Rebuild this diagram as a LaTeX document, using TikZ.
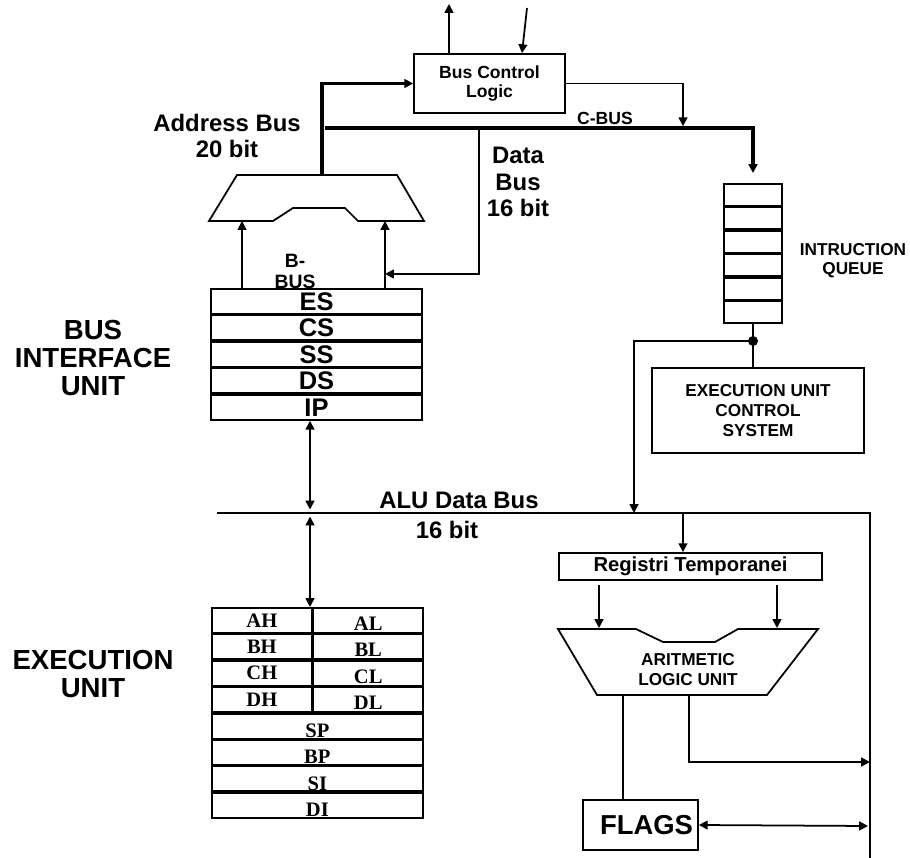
\documentclass[tikz,border=0pt]{standalone}
\usepackage{fontspec}
\setmainfont{Liberation Sans}
\newfontfamily\gprfont{Liberation Serif}
\usetikzlibrary{arrows.meta,positioning}

\begin{document}
\begin{tikzpicture}[x=0.02cm, y=-0.02cm, line width=1pt, >={Triangle[length=5pt,width=5pt]},
  every node/.style={inner sep=1pt, font=\bfseries},
  bus/.style={line width=2.2pt},
  box/.style={draw, line width=1pt},
  segreg/.style={draw, minimum width=4.22cm, minimum height=0.496cm, inner sep=0pt, font=\bfseries\fontsize{14.5}{14.5}\selectfont},
  gprreg/.style={draw, minimum height=0.494cm, inner sep=0pt, font=\gprfont\bfseries\fontsize{11.7}{12}\selectfont},
  gprmid/.style={text height=4mm, text depth=0pt},
  gprlow/.style={text height=4.6mm, text depth=0pt},
  qcell/.style={draw, minimum width=1.16cm, minimum height=0.434cm, inner sep=0pt},
  biglbl/.style={align=center, font=\bfseries\fontsize{15.7}{16}\selectfont},
  buslbl/.style={align=center, font=\bfseries\fontsize{13.6}{15.2}\selectfont},
  smalllbl/.style={align=center, font=\bfseries\fontsize{9.8}{10.8}\selectfont}]
\useasboundingbox (0,0) rectangle (910,858);

\node[box, minimum width=3.02cm, minimum height=1.18cm, align=center, font=\bfseries\fontsize{10}{11}\selectfont] (bcl) at (489.5,83.5) {Bus Control\\Logic};
\node[buslbl] (abus) at (227,136) {Address Bus\\20 bit};
\node[buslbl] (dbus) at (518,182) {Data\\Bus\\16 bit};
\node[font=\bfseries\fontsize{10}{11}\selectfont] (cbus) at (605,118) {C-BUS};
\node[align=center, font=\bfseries\fontsize{11}{12}\selectfont] (bbus) at (295,271) {B-\\BUS};

\node[segreg, anchor=north] (es) at (316.5,288) {ES};
\node[segreg, below=0pt of es] (cs) {CS};
\node[segreg, below=0pt of cs] (ss) {SS};
\node[segreg, below=0pt of ss] (ds) {DS};
\node[segreg, below=0pt of ds] (ip) {IP};

\node[biglbl] (biu) at (93,358) {BUS\\INTERFACE\\UNIT};
\node[biglbl] (eu) at (93,674) {EXECUTION\\UNIT};

\node[qcell, anchor=north] (iq1) at (753,183) {};
\node[qcell, below=0pt of iq1] (iq2) {};
\node[qcell, below=0pt of iq2] (iq3) {};
\node[qcell, below=0pt of iq3] (iq4) {};
\node[qcell, below=0pt of iq4] (iq5) {};
\node[qcell, below=0pt of iq5] (iq6) {};
\node[smalllbl] (iqlbl) at (853,261) {INTRUCTION\\QUEUE};

\node[box, smalllbl, minimum width=4.24cm, minimum height=1.7cm, font=\bfseries\fontsize{9.8}{11.2}\selectfont] (eucs) at (758,410.5) {EXECUTION UNIT\\CONTROL\\SYSTEM};

\node[buslbl] (aldb) at (459,500) {ALU Data Bus};
\node[buslbl] (aldbw) at (447,530) {16 bit};

\node[box, minimum width=5.26cm, minimum height=0.54cm, font=\bfseries\fontsize{11.5}{12}\selectfont] (rt) at (690.5,566.5) {Registri Temporanei};
\node[smalllbl, font=\bfseries\fontsize{9.8}{11.4}\selectfont] (alu) at (688,670) {ARITMETIC\\LOGIC UNIT};
\node[box, minimum width=2.3cm, minimum height=1.0cm, text width=2.1cm, align=right, font=\bfseries\fontsize{15.6}{16}\selectfont] (flags) at (640.5,825) {FLAGS};

\node[gprreg, minimum width=2.0cm, anchor=north west] (ah) at (211,607) {AH};
\node[gprreg, gprmid, minimum width=2.185cm, right=0pt of ah] (al) {AL};
\node[gprreg, minimum width=2.0cm, below=0pt of ah] (bh) {BH};
\node[gprreg, gprmid, minimum width=2.185cm, right=0pt of bh] (bl) {BL};
\node[gprreg, minimum width=2.0cm, below=0pt of bh] (ch) {CH};
\node[gprreg, gprmid, minimum width=2.185cm, right=0pt of ch] (cl) {CL};
\node[gprreg, minimum width=2.0cm, below=0pt of ch] (dh) {DH};
\node[gprreg, gprmid, minimum width=2.185cm, right=0pt of dh] (dl) {DL};
\node[gprreg, gprlow, minimum width=4.22cm, below=0pt of dh.south west, anchor=north west] (sp) {SP};
\node[gprreg, gprlow, minimum width=4.22cm, below=0pt of sp] (bp) {BP};
\node[gprreg, gprlow, minimum width=4.22cm, below=0pt of bp] (si) {SI};
\node[gprreg, gprlow, minimum width=4.22cm, below=0pt of si] (di) {DI};

\coordinate (ctlout) at (449,4);
\coordinate (ctlin) at (527,8);
\draw[->] ([xshift=-0.81cm]bcl.north) -- (ctlout);
\draw[->] (ctlin) -- ([xshift=0.65cm]bcl.north);

\coordinate (abtop) at (322,175);
\draw[bus,->] (abtop) |- (bcl.west);
\coordinate (cbl) at (325,128);
\draw[bus,->,shorten >=0.2cm] (cbl) -| (iq1.north);
\coordinate (cbtap) at (683,128);
\draw[->,shorten >=1pt] (bcl.east) -| (cbtap);
\coordinate (dbtap) at (479,128);
\coordinate (dbend) at (385,274);
\draw[->] (dbtap) |- (dbend);

\draw (237,175) -- (397,175) -- (424,221) -- (358,221) -- (345,208) -- (293,208) -- (273,221) -- (209,221) -- cycle;
\coordinate (muxinl) at (242,221);
\coordinate (muxinr) at (385,221);
\draw[->] (es.north -| muxinl) -- (muxinl);
\draw[->] (es.north -| muxinr) -- (muxinr);

\coordinate (albl) at (217,513);
\coordinate (albr) at (870,513);
\coordinate (albb) at (870,858);
\draw (albl) -- (albr) -- (albb);
\coordinate (alutap) at (310,513);
\draw[<->,shorten >=2pt] (ip.south -| alutap) -- (alutap);
\draw[<->,shorten <=2pt] (alutap) -- (alutap |- ah.north);

\coordinate (qdot) at (753,341);
\draw (iq6.south) -- (iq6.south |- eucs.north);
\fill (qdot) circle (0.1cm);
\coordinate (eutap) at (634,513);
\draw[->] (qdot) -| (eutap);

\coordinate (rttap) at (683,513);
\draw[->] (rttap) -- (rttap |- rt.north);
\draw (558,629) -- (636,629) -- (663,642) -- (715,642) -- (738,629) -- (818,629) -- (767,695) -- (597,695) -- cycle;
\coordinate (aluinl) at (599,628);
\coordinate (aluinr) at (777,628);
\draw[->,shorten <=0.08cm] (rt.south -| aluinl) -- (aluinl);
\draw[->,shorten <=0.08cm] (rt.south -| aluinr) -- (aluinr);
\coordinate (aluout) at (689,695);
\coordinate (outtap) at (870,762);
\draw[->] (aluout) |- (outtap);
\coordinate (aluflag) at (623,695);
\draw (aluflag) -- (aluflag |- flags.north);
\coordinate (flagtap) at (868,826);
\draw[<->] (flags.east) -- (flagtap);
\end{tikzpicture}
\end{document}
